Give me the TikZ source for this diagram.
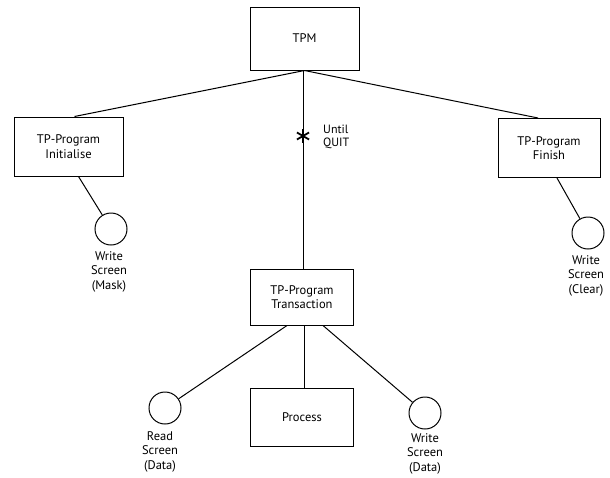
\documentclass[tikz,border=0pt]{standalone}
\usepackage{fontspec}
\setmainfont{PT Sans}
\begin{document}
\begin{tikzpicture}[x=1pt,y=-1pt,
  every node/.style={font=\fontsize{12.5}{14.5}\selectfont},
  box/.style={draw,line width=1pt,minimum width=104pt,minimum height=59pt,align=center,inner sep=0pt},
  leaf/.style={draw,circle,line width=1pt,minimum size=32pt,inner sep=0pt},
  lbl/.style={align=center,inner sep=0pt,anchor=north},
  conn/.style={line width=1pt},
  starsym/.style={minimum size=14pt,inner sep=0pt,
    path picture={\foreach \a in {90,210,330}{
      \draw[line width=1.8pt] (path picture bounding box.center) -- ++(\a:7pt);
      \draw[line width=1.8pt] (path picture bounding box.center) -- ++(\a+180:7pt);}}}
]
\useasboundingbox (0,0) rectangle (610,477);
\node[box,minimum height=63pt,minimum width=109pt] (tpm) at (304.5,38.5) {TPM};
\node[box,minimum width=109pt] (init) at (68.5,146.5) {TP-Program\\Initialise};
\node[box,minimum width=102pt] (fin) at (549,148) {TP-Program\\Finish};
\node[box,minimum height=56pt,minimum width=103pt] (trans) at (302,297) {TP-Program\\Transaction};
\node[box,minimum height=58pt,minimum width=103pt] (proc) at (302,417) {Process};
\node[starsym] (star) at (303,136) {};
\node[anchor=west,align=left,inner sep=0pt,font=\fontsize{12}{13}\selectfont] (until) at (323,137) {Until\\QUIT};

\node[leaf] (c1) at (111,229) {};
\node[lbl] (l1) at (109,251) {Write\\Screen\\(Mask)};
\node[leaf] (c4) at (588,233) {};
\node[lbl] (l4) at (586,255) {Write\\Screen\\(Clear)};
\node[leaf] (c2) at (165,408) {};
\node[lbl] (l2) at (160,431) {Read\\Screen\\(Data)};
\node[leaf] (c3) at (425,413) {};
\node[lbl] (l3) at (425,433) {Write\\Screen\\(Data)};

\draw[conn] (tpm.south) -- ([xshift=6pt]init.north);
\draw[conn] (tpm.south) -- ([xshift=-11pt]fin.north);
\draw[conn] (tpm.south -| star) -- (star);
\draw[conn] (star) -- (trans.north -| star);
\draw[conn] ([xshift=10pt]init.south) -- (c1);
\draw[conn] ([xshift=8pt]fin.south) -- (c4);
\draw[conn] ([xshift=-15pt]trans.south) -- (c2);
\draw[conn] ([xshift=21pt]trans.south) -- (c3);
\draw[conn] ([xshift=2pt]trans.south) -- ([xshift=2pt]proc.north);
\end{tikzpicture}
\end{document}
